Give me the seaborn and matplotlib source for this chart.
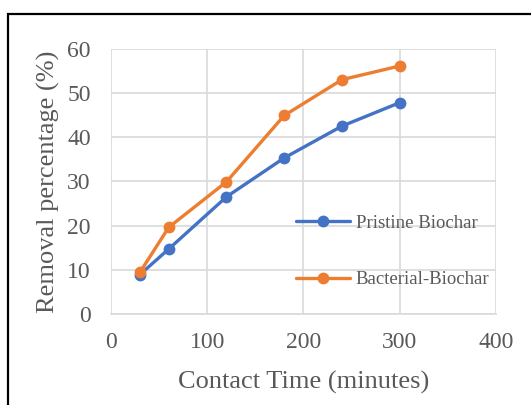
import matplotlib
matplotlib.use("Agg")
import matplotlib.pyplot as plt
import seaborn as sns
import pandas as pd
from matplotlib.patches import Rectangle

time_min = [30, 60, 120, 180, 240, 300]
pristine = [8.9, 14.7, 26.5, 35.3, 42.5, 47.8]
bacterial = [9.4, 19.6, 29.9, 44.9, 53.0, 56.1]
series_names = ["Pristine Biochar", "Bacterial-Biochar"]
x_ticks = [0, 100, 200, 300, 400]
y_ticks = [0, 10, 20, 30, 40, 50, 60]

df = pd.DataFrame({
    "time": time_min * 2,
    "removal": pristine + bacterial,
    "series": [series_names[0]] * len(time_min) + [series_names[1]] * len(time_min),
})

sns.set_theme(style="white")
plt.rcParams["font.family"] = ["Liberation Serif", "DejaVu Serif"]
text_color = "#595959"

fig = plt.figure(figsize=(5.31, 4.05), dpi=100)
ax = fig.add_axes([0.209, 0.2247, 0.725, 0.655])

sns.lineplot(data=df, x="time", y="removal", hue="series", ax=ax,
             palette={series_names[0]: "#4472C4", series_names[1]: "#ED7D31"},
             marker="o", markersize=8.5, markeredgewidth=0, linewidth=2.4,
             hue_order=series_names)

ax.set_xlim(0, 400)
ax.set_ylim(0, 60)
ax.set_xticks(x_ticks)
ax.set_yticks(y_ticks)
ax.grid(True, color="#d9d9d9", linewidth=1.2)
ax.set_axisbelow(True)
for s in ["top", "right", "left"]:
    ax.spines[s].set_visible(False)
ax.spines["bottom"].set_color("#d9d9d9")
ax.spines["bottom"].set_linewidth(1.2)
ax.tick_params(axis="both", length=0, labelsize=17, colors=text_color)
ax.tick_params(axis="y", pad=14.5)
ax.tick_params(axis="x", pad=13)
ax.set_xlabel("Contact Time (minutes)", fontsize=19, color=text_color, labelpad=13)
ax.set_ylabel("Removal percentage (%)", fontsize=19, color=text_color, labelpad=5)

leg = ax.legend(loc="upper left", bbox_to_anchor=(0.48, 0.374), frameon=False,
                fontsize=13.5, handlelength=2.9, handletextpad=0.3, labelspacing=2.1,
                labelcolor=text_color, borderaxespad=0, borderpad=0)

fig.patches.append(Rectangle((0.016, -0.5), 2.0, 0.5 + 0.9654, transform=fig.transFigure,
                             fill=False, edgecolor="black", linewidth=1.6))

fig.savefig("out.png", dpi=100)
